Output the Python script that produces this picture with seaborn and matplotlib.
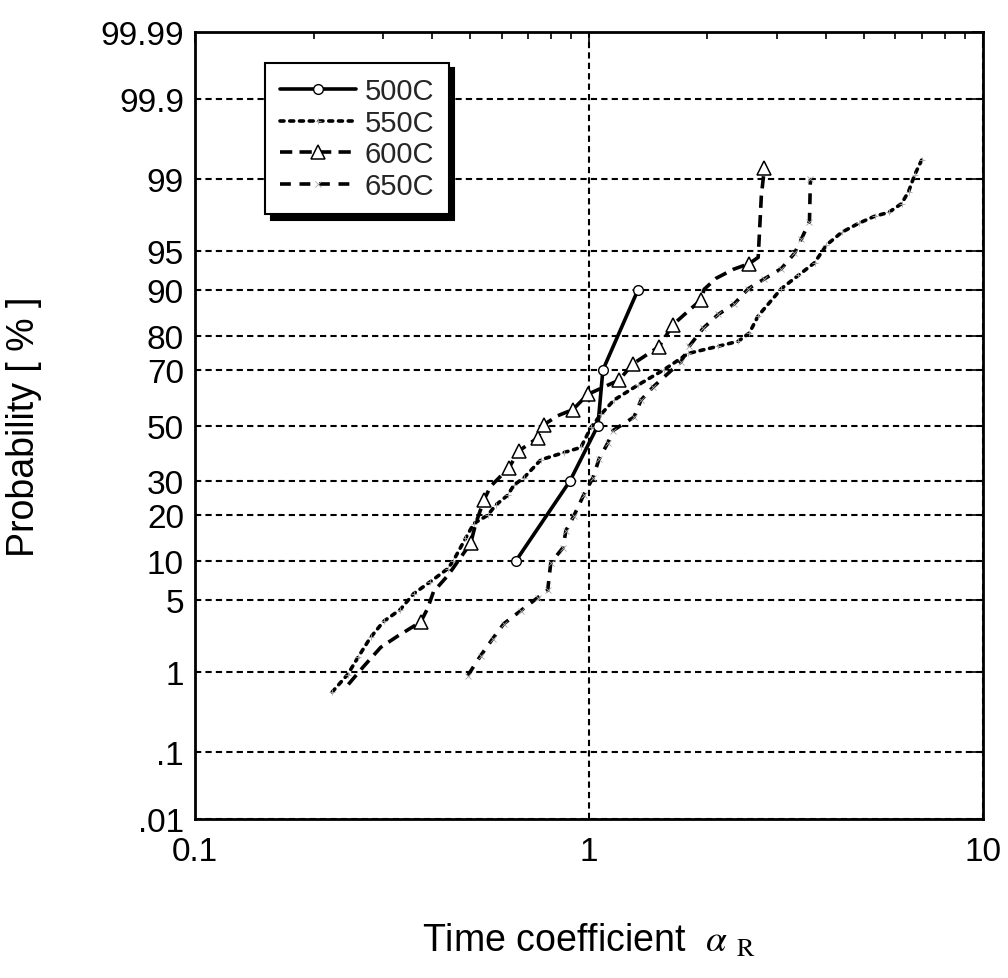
import numpy as np
import pandas as pd
import matplotlib
matplotlib.use("Agg")
import matplotlib.pyplot as plt
import seaborn as sns
from statistics import NormalDist
from matplotlib.lines import Line2D
from matplotlib.ticker import NullLocator, NullFormatter, LogLocator

# ---------------- data ----------------
series_names = ["500C", "550C", "600C", "650C"]

x_500 = [0.652, 0.895, 1.054, 1.085, 1.332]
p_500 = [10, 30, 50, 70, 90]

x_550 = [0.223, 0.244, 0.260, 0.279, 0.301, 0.332, 0.359, 0.396, 0.438, 0.453,
         0.486, 0.510, 0.553, 0.580, 0.622, 0.645, 0.683, 0.755, 0.864, 0.954,
         1.012, 1.073, 1.158, 1.332, 1.551, 1.786, 2.129, 2.394, 2.554, 2.69,
         3.08, 3.40, 3.74, 4.01, 4.38, 4.84, 5.31, 5.77, 6.22, 6.48, 6.71, 7.00]
p_550 = [0.59, 0.93, 1.45, 2.26, 3.2, 4.1, 5.6, 7.0, 8.8, 10.1,
         14.3, 17.7, 19.8, 22.6, 25.5, 28.7, 31.0, 37.3, 39.9, 41.8,
         49.3, 54.2, 59.5, 64.9, 70.1, 75.2, 77.3, 78.7, 80.9, 85.0,
         90.2, 92.2, 93.8, 95.6, 96.6, 97.2, 97.6, 97.8, 98.2, 98.65, 99.1, 99.4]

x_600 = [0.245, 0.268, 0.296, 0.327, 0.374, 0.389, 0.403, 0.438, 0.451, 0.501,
         0.516, 0.541, 0.563, 0.626, 0.664, 0.742, 0.768, 0.834, 0.911, 0.994,
         1.192, 1.294, 1.507, 1.636, 1.928, 1.961, 2.105, 2.325, 2.553, 2.69,
         2.74, 2.79]
p_600 = [0.72, 1.14, 1.80, 2.33, 3.17, 4.15, 5.8, 7.8, 8.8, 13.3,
         17.7, 24.0, 28.3, 34.4, 40.5, 45.4, 50.3, 53.7, 56.0, 61.6,
         66.6, 72.0, 77.2, 83.0, 88.3, 90.1, 91.8, 93.0, 93.7, 94.4,
         98.5, 99.26]
marked_600 = [4, 9, 11, 13, 14, 15, 16, 18, 19, 20, 21, 22, 23, 24, 28, 31]

x_650 = [0.492, 0.531, 0.570, 0.608, 0.671, 0.742, 0.786, 0.800, 0.859, 0.874,
         0.916, 0.971, 1.024, 1.060, 1.118, 1.151, 1.302, 1.356, 1.455, 1.714,
         1.797, 1.950, 2.129, 2.339, 2.539, 2.788, 3.08, 3.324, 3.463, 3.630, 3.65]
p_650 = [0.90, 1.48, 2.2, 3.05, 4.0, 5.2, 6.0, 9.7, 12.4, 16.0,
         19.7, 25.7, 31.1, 37.4, 43.6, 48.1, 53.2, 59.5, 64.2, 72.7,
         77.3, 82.1, 85.3, 87.5, 90.2, 91.7, 93.1, 94.8, 96.1, 97.3, 99.0]

y_ticks = [0.01, 0.1, 1, 5, 10, 20, 30, 50, 70, 80, 90, 95, 99, 99.9, 99.99]
y_tick_labels = [".01", ".1", "1", "5", "10", "20", "30", "50", "70", "80",
                 "90", "95", "99", "99.9", "99.99"]
x_ticks = [0.1, 1, 10]
x_tick_labels = ["0.1", "1", "10"]

# ---------------- normal probability scale ----------------
_nd = NormalDist()
_ppf = np.vectorize(_nd.inv_cdf, otypes=[float])
_cdf = np.vectorize(_nd.cdf, otypes=[float])


def prob_fwd(p):
    p = np.asarray(p, dtype=float)
    q = np.clip(p / 100.0, 1e-12, 1 - 1e-12)
    return _ppf(q)


def prob_inv(z):
    z = np.asarray(z, dtype=float)
    return _cdf(z) * 100.0


# ---------------- style ----------------
sns.set_theme(style="white")
plt.rcParams["font.family"] = ["Liberation Sans", "DejaVu Sans"]
plt.rcParams["mathtext.fontset"] = "stix"

fig, ax = plt.subplots(figsize=(10.08, 9.79), dpi=100)
fig.subplots_adjust(left=0.1935, right=0.975, bottom=0.1624, top=0.9663)

ax.set_xscale("log")
ax.set_yscale("function", functions=(prob_fwd, prob_inv))

LW = 2.6
styles = {
    "500C": dict(linestyle="-", marker="o", markersize=7, markerfacecolor="white",
                 markeredgecolor="black", markeredgewidth=1.0),
    "550C": dict(linestyle=(0, (1.1, 1.6)), dash_capstyle="round", marker="+",
                 markersize=5, markeredgecolor="0.65", markeredgewidth=0.6),
    "600C": dict(linestyle=(0, (3.4, 2.0)), marker="^", markersize=10,
                 markerfacecolor="white", markeredgecolor="black",
                 markeredgewidth=1.1),
    "650C": dict(linestyle=(0, (3.0, 2.4)), marker="x", markersize=5,
                 markeredgecolor="0.65", markeredgewidth=0.6),
}
data = {
    "500C": (x_500, p_500, None),
    "550C": (x_550, p_550, None),
    "600C": (x_600, p_600, marked_600),
    "650C": (x_650, p_650, None),
}

for name in series_names:
    xs, ps, mk = data[name]
    df = pd.DataFrame({"alpha": xs, "prob": ps})
    kw = dict(styles[name])
    if mk is not None:
        kw["markevery"] = mk
    sns.lineplot(data=df, x="alpha", y="prob", ax=ax, color="black", lw=LW,
                 estimator=None, sort=False, legend=False, zorder=3, **kw)

# ---------------- axes ----------------
ax.set_xlim(0.1, 10)
ax.set_ylim(0.01, 99.99)
ax.set_xticks(x_ticks, labels=x_tick_labels)
ax.xaxis.set_minor_locator(LogLocator(base=10, subs=np.arange(2, 10)))
ax.xaxis.set_minor_formatter(NullFormatter())
ax.set_yticks(y_ticks, labels=y_tick_labels)
ax.yaxis.set_minor_locator(NullLocator())

ax.grid(True, which="major", axis="both", color="black",
        linestyle=(0, (3, 2)), linewidth=1.5, zorder=1)
ax.set_axisbelow(True)

ax.tick_params(axis="both", which="both", direction="in", top=True, right=True,
               colors="black", labelsize=24)
ax.tick_params(axis="both", which="major", length=8, width=1.2)
ax.tick_params(axis="both", which="minor", length=5, width=1.2)
ax.tick_params(axis="x", pad=12)
ax.tick_params(axis="y", pad=8)

for sp in ax.spines.values():
    sp.set_color("black")
    sp.set_linewidth(2)

ax.set_xlabel(r"Time coefficient  $\alpha_{\;\;\mathrm{R}}$", fontsize=27,
              labelpad=40, color="black")
ax.set_ylabel("Probability [ % ]", fontsize=27, labelpad=42, color="black")

# ---------------- legend ----------------
handles = []
for name in series_names:
    kw = dict(styles[name])
    handles.append(Line2D([], [], color="black", lw=LW, **kw))
leg = ax.legend(handles, series_names, loc="upper left",
                bbox_to_anchor=(0.089, 0.961), borderaxespad=0, fontsize=21,
                frameon=True, fancybox=False, edgecolor="black", framealpha=1,
                handlelength=2.6, handletextpad=0.3, labelspacing=0.12,
                borderpad=0.5, numpoints=1,
                shadow={"ox": 4, "oy": -4, "facecolor": "black",
                        "edgecolor": "black", "alpha": 1})
leg.get_frame().set_linewidth(1.5)
leg.set_zorder(5)

fig.savefig("out.png", dpi=100, facecolor="white")
